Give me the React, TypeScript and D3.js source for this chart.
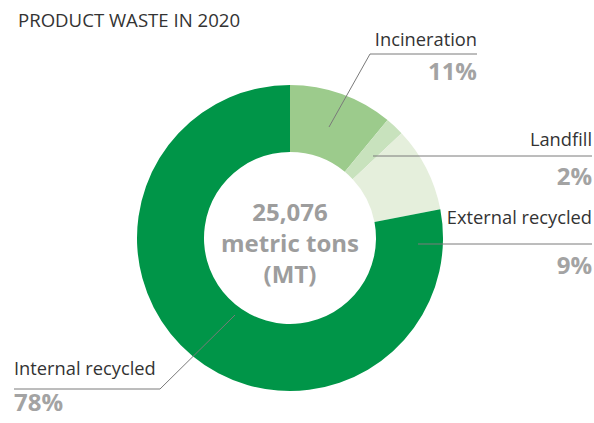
import React from "react";
import * as d3 from "d3";

const categories = ["Incineration", "Landfill", "External recycled", "Internal recycled"];
const values = [11, 2, 9, 78];
const percentLabels = ["11%", "2%", "9%", "78%"];
const colors = ["#9ccb8c", "#c8e2bd", "#e5efdc", "#009548"];
const centerLines = ["25,076", "metric tons", "(MT)"];
const title = "PRODUCT WASTE IN 2020";

const W = 594;
const H = 423;
const cx = 290;
const cy = 238;
const outerR = 153;
const innerR = 86;

const layouts = [
  { pts: [[370, 54], [477, 54]], x: 477, ly: 46, py: 80, anchor: "end" },
  { pts: [[592, 156]], x: 592, ly: 146, py: 185, anchor: "end" },
  { pts: [[592, 244]], x: 592, ly: 224, py: 274, anchor: "end" },
  { pts: [[160, 389], [14, 389]], x: 14, ly: 375, py: 411, anchor: "start" },
];
const leaderStarts = [[329, 127], [373, 156], [418, 244], [235, 315]];

export default function App() {
  const pie = d3.pie<number>().sort(null).value((d) => d)(values);
  const arc = d3.arc<d3.PieArcDatum<number>>().innerRadius(innerR).outerRadius(outerR);
  const font = "'Open Sans', 'Noto Sans', sans-serif";
  return (
    <svg width={W} height={H} style={{ position: "absolute", left: 0, top: 0, background: "#fff" }}>
      <text x={18} y={27} fontFamily={font} fontSize={18.6} fill="#333">
        {title}
      </text>
      <g transform={`translate(${cx},${cy})`}>
        {pie.map((p, i) => (
          <path key={i} d={arc(p) || ""} fill={colors[i]} />
        ))}
      </g>
      {layouts.map((l, i) => {
        const pts = [leaderStarts[i], ...l.pts];
        const line = d3.line()(pts as [number, number][]);
        return <path key={"l" + i} d={line || ""} fill="none" stroke="#7a7a7a" strokeWidth={1} />;
      })}
      {layouts.map((l, i) => (
        <g key={"t" + i} fontFamily={font}>
          <text x={l.x} y={l.ly} textAnchor={l.anchor} fontSize={18.3} fill="#333">
            {categories[i]}
          </text>
          <text x={l.x} y={l.py} textAnchor={l.anchor} fontSize={24} fontWeight="bold" fill="#a3a3a3">
            {percentLabels[i]}
          </text>
        </g>
      ))}
      {centerLines.map((t, i) => (
        <text
          key={"c" + i}
          x={cx}
          y={221 + i * 31}
          textAnchor="middle"
          fontFamily={font}
          fontSize={24}
          fontWeight="bold"
          fill="#9d9d9d"
        >
          {t}
        </text>
      ))}
    </svg>
  );
}
